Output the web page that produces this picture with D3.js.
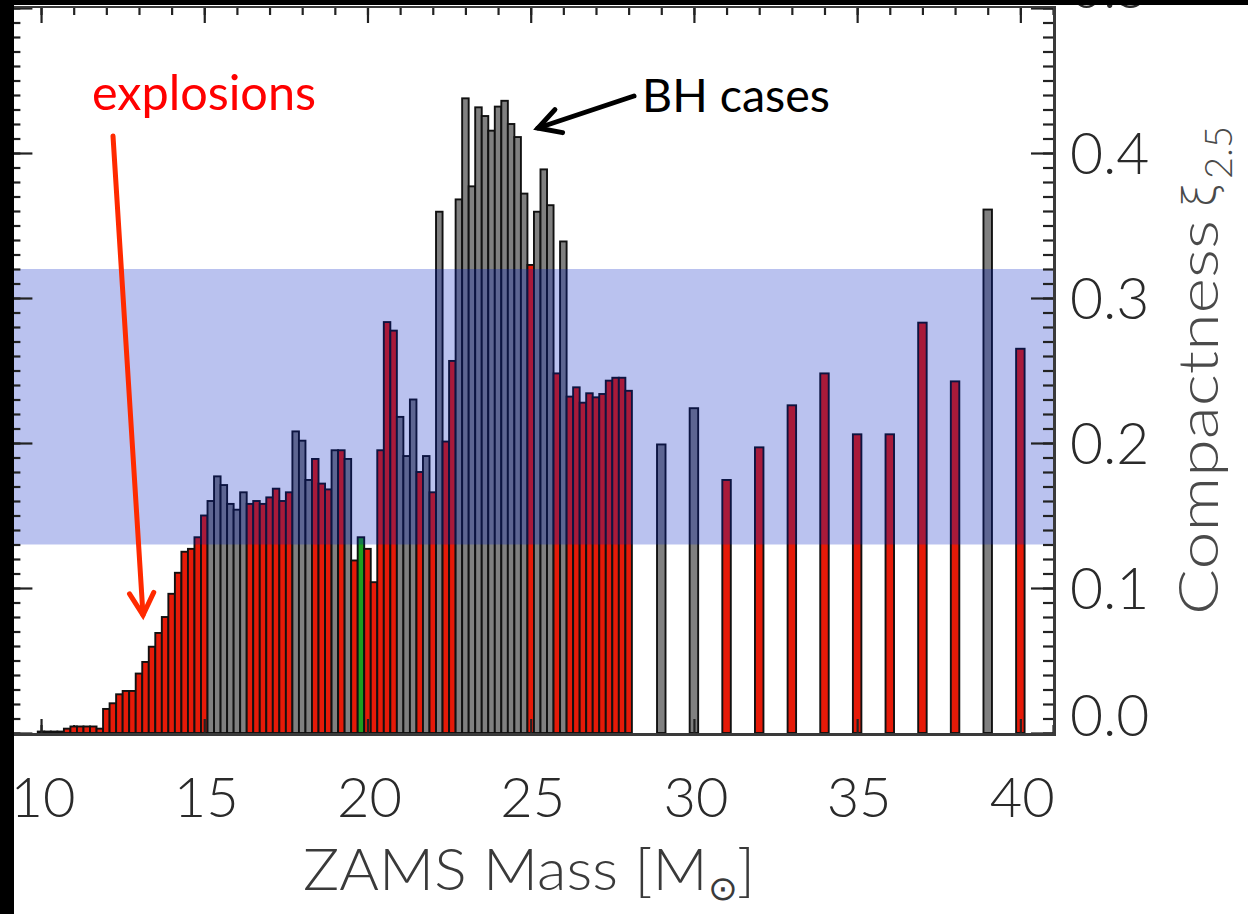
<!DOCTYPE html>
<html><head><meta charset="utf-8">
<script src="https://cdn.jsdelivr.net/npm/d3@7"></script>
<style>body{margin:0;background:#fff;} svg{display:block}</style>
</head><body><svg id="c" width="1248" height="914"></svg>
<script>
// ---- data ----
const denseMasses = [10.0,10.2,10.4,10.6,10.8,11.0,11.2,11.4,11.6,11.8,12.0,12.2,12.4,12.6,12.8,13.0,13.2,13.4,13.6,13.8,
  14.0,14.2,14.4,14.6,14.8,15.0,15.2,15.4,15.6,15.8,16.0,16.2,16.4,16.6,16.8,17.0,17.2,17.4,17.6,17.8,
  18.0,18.2,18.4,18.6,18.8,19.0,19.2,19.4,19.6,19.8,20.0,20.2,20.4,20.6,20.8,21.0,21.2,21.4,21.6,21.8,
  22.0,22.2,22.4,22.6,22.8,23.0,23.2,23.4,23.6,23.8,24.0,24.2,24.4,24.6,24.8,25.0,25.2,25.4,25.6,25.8,
  26.0,26.2,26.4,26.6,26.8,27.0,27.2,27.4,27.6,27.8,28.0];
const denseXi = [0.001,0.001,0.001,0.001,0.003,0.0045,0.0045,0.0045,0.0045,0.003,
  0.0166,0.0205,0.0267,0.029,0.029,0.041,0.049,0.0595,0.069,0.080,
  0.096,0.1105,0.125,0.127,0.135,0.150,0.160,0.177,0.171,0.158,
  0.154,0.166,0.158,0.160,0.158,0.1625,0.1685,0.160,0.166,0.208,
  0.2016,0.1745,0.189,0.172,0.168,0.195,0.195,0.189,0.119,0.135,
  0.127,0.104,0.195,0.2834,0.2775,0.218,0.191,0.230,0.180,0.191,
  0.166,0.3595,0.201,0.2566,0.368,0.4377,0.377,0.4315,0.4255,0.4154,
  0.432,0.436,0.420,0.411,0.372,0.3228,0.3595,0.3887,0.364,0.248,
  0.339,0.232,0.2384,0.2278,0.2343,0.2315,0.2338,0.243,0.245,0.245,
  0.236];
// E = explosion, B = black hole, G = other (green)
const denseOutcome = ["E","E","E","E","E","E","E","E","E","E","E","E","E","E","E","E","E","E","E","E",
  "E","E","E","E","E","E","B","B","B","B","B","B","E","E","E","E","E","E","E","B",
  "B","B","E","E","E","B","E","B","E","G","E","E","E","E","E","B","B","B","E","B",
  "E","B","E","E","B","B","B","B","B","B","B","B","B","B","B","E","B","B","B","E",
  "B","E","E","E","E","E","E","E","E","E","E"];
const sparseMasses = [29,30,31,32,33,34,35,36,37,38,39,40];
const sparseXi = [0.199,0.224,0.1745,0.197,0.226,0.248,0.206,0.206,0.283,0.2425,0.361,0.265];
const sparseOutcome = ["B","B","E","E","E","E","E","E","E","E","B","E"];
const xTickValues = [10,15,20,25,30,35,40];
const xTickLabels = ["10","15","20","25","30","35","40"];
const yTickValues = [0.0,0.1,0.2,0.3,0.4,0.5];
const yTickLabels = ["0.0","0.1","0.2","0.3","0.4","0.5"];
const bandRange = [0.13, 0.32];

// ---- layout ----
const svg = d3.select("#c");
const x = d3.scaleLinear().domain([9, 41]).range([8.4, 1053]);
const y = d3.scaleLinear().domain([0, 0.5]).range([733, 8]);
const color = d3.scaleOrdinal().domain(["E","B","G"]).range(["#e61a08","#808080","#1f9f1f"]);

const bars = denseMasses.map((m,i)=>({m, v:denseXi[i], o:denseOutcome[i], w:0.2}))
  .concat(sparseMasses.map((m,i)=>({m, v:sparseXi[i], o:sparseOutcome[i], w:0.26})));

// bottom minor ticks (under bars)
svg.append("g").attr("transform",`translate(0,${y(0)})`)
  .call(d3.axisBottom(x).tickValues(d3.range(9,42,1)).tickSize(-8).tickFormat(""))
  .call(g=>g.select(".domain").remove())
  .selectAll("line").attr("stroke","#222").attr("stroke-width",2.2);

svg.append("g").selectAll("rect").data(bars).join("rect")
  .attr("x", d=>x(d.m - d.w/2))
  .attr("width", d=>x(d.m + d.w/2) - x(d.m - d.w/2))
  .attr("y", d=>y(d.v))
  .attr("height", d=>y(0)-y(d.v))
  .attr("fill", d=>color(d.o))
  .attr("stroke","#111").attr("stroke-width",1.9);

// band
svg.append("rect")
  .attr("x", x(9)).attr("width", x(41)-x(9))
  .attr("y", y(bandRange[1])).attr("height", y(bandRange[0])-y(bandRange[1]))
  .attr("fill","rgb(0,30,196)").attr("fill-opacity",0.27);

// axes ticks
function styleTicks(g){ g.select(".domain").remove(); g.selectAll("line").attr("stroke","#222").attr("stroke-width",2.2); }
svg.append("g").attr("transform",`translate(0,${y(0)})`)
  .call(d3.axisBottom(x).tickValues(xTickValues).tickSize(-14).tickFormat("")).call(styleTicks);
svg.append("g").attr("transform",`translate(0,${y(0.5)-1})`)
  .call(d3.axisTop(x).tickValues(d3.range(9,42,1)).tickSize(-8).tickFormat("")).call(styleTicks);
svg.append("g").attr("transform",`translate(0,${y(0.5)-1})`)
  .call(d3.axisTop(x).tickValues(xTickValues).tickSize(-16).tickFormat("")).call(styleTicks);
svg.append("g").attr("transform",`translate(${x(9)},0)`)
  .call(d3.axisLeft(y).tickValues(d3.range(0,0.5001,0.01)).tickSize(-12).tickFormat("")).call(styleTicks);
svg.append("g").attr("transform",`translate(${x(9)},0)`)
  .call(d3.axisLeft(y).tickValues(yTickValues).tickSize(-24).tickFormat("")).call(styleTicks);
svg.append("g").attr("transform",`translate(${x(41)},0)`)
  .call(d3.axisRight(y).tickValues(d3.range(0,0.5001,0.01)).tickSize(-10).tickFormat("")).call(styleTicks);
svg.append("g").attr("transform",`translate(${x(41)},0)`)
  .call(d3.axisRight(y).tickValues(yTickValues).tickSize(-22).tickFormat("")).call(styleTicks);

// frame lines
svg.append("line").attr("x1",x(9)).attr("x2",x(41)+1.5).attr("y1",y(0)+1.5).attr("y2",y(0)+1.5)
  .attr("stroke","#3a3a3a").attr("stroke-width",3);
svg.append("line").attr("x1",x(41)+1.5).attr("x2",x(41)+1.5).attr("y1",y(0.5)-2).attr("y2",y(0)+3)
  .attr("stroke","#3a3a3a").attr("stroke-width",3);
svg.append("line").attr("x1",x(9)).attr("x2",x(41)+1.5).attr("y1",y(0.5)-1).attr("y2",y(0.5)-1)
  .attr("stroke","#3a3a3a").attr("stroke-width",2);

const FONT = "Lato, 'Open Sans', 'DejaVu Sans', sans-serif";
svg.append("g").selectAll("text").data(xTickValues).join("text")
  .attr("x", d=>x(d)+2).attr("y", 817)
  .attr("text-anchor","middle").attr("font-family",FONT).attr("font-weight",300)
  .attr("font-size",56).attr("fill","#2a2a2a")
  .text((d,i)=>xTickLabels[i]);
svg.append("g").selectAll("text").data(yTickValues).join("text")
  .attr("x", 1070)
  .attr("y", (d,i)=> y(d) + 21 + (i===0 ? -18 : 0) + (i===yTickValues.length-1 ? -21 : 0))
  .attr("font-family",FONT).attr("font-weight",300)
  .attr("font-size",57).attr("fill","#2a2a2a")
  .text((d,i)=>yTickLabels[i]);

// x title
const xt = svg.append("text").attr("x",303).attr("y",890)
  .attr("font-family",FONT).attr("font-weight",300).attr("font-size",58).attr("fill","#3a3a3a")
  .attr("textLength",452).attr("lengthAdjust","spacingAndGlyphs");
xt.append("tspan").text("ZAMS Mass [M");
xt.append("tspan").attr("font-size",34).attr("dy",10).attr("font-family","'DejaVu Sans', sans-serif").text("⊙");
xt.append("tspan").attr("dy",-10).text("]");

// y title (right, rotated)
const yt = svg.append("g").attr("transform","translate(1218,615) rotate(-90)");
yt.append("text").attr("x",0).attr("y",0)
  .attr("font-family",FONT).attr("font-weight",300).attr("font-size",56).attr("fill","#4a4a4a")
  .attr("textLength",395).attr("lengthAdjust","spacingAndGlyphs").text("Compactness");
yt.append("text").attr("x",408).attr("y",-3)
  .attr("font-family","'DejaVu Sans', sans-serif").attr("font-weight",300).attr("font-size",44).attr("fill","#4a4a4a").text("ξ");
yt.append("text").attr("x",436).attr("y",14)
  .attr("font-family",FONT).attr("font-weight",300).attr("font-size",38).attr("fill","#4a4a4a").text("2.5");

// annotations
function arrow(x1,y1,x2,y2,col){
  const ang = Math.atan2(y2-y1, x2-x1), L = 25, a = Math.PI/6.2;
  svg.append("line").attr("x1",x1).attr("y1",y1).attr("x2",x2).attr("y2",y2)
    .attr("stroke",col).attr("stroke-width",5).attr("stroke-linecap","round");
  const p = `M${x2-L*Math.cos(ang-a)},${y2-L*Math.sin(ang-a)} L${x2},${y2} L${x2-L*Math.cos(ang+a)},${y2-L*Math.sin(ang+a)}`;
  svg.append("path").attr("d",p).attr("fill","none").attr("stroke",col).attr("stroke-width",5)
    .attr("stroke-linecap","round").attr("stroke-linejoin","miter");
}
svg.append("text").attr("x",92).attr("y",110).attr("font-family",FONT).attr("font-size",48)
  .attr("fill","#ff0000").attr("textLength",224).attr("lengthAdjust","spacingAndGlyphs").text("explosions");
arrow(113,136,143,615,"#ff2a00");
svg.append("text").attr("x",642).attr("y",112).attr("font-family",FONT).attr("font-size",47)
  .attr("fill","#000").attr("textLength",188).attr("lengthAdjust","spacingAndGlyphs").text("BH cases");
arrow(634,96,538,128,"#000");

// slide background edges
svg.append("rect").attr("x",0).attr("y",0).attr("width",14).attr("height",914).attr("fill","#000");
svg.append("rect").attr("x",0).attr("y",0).attr("width",1248).attr("height",5).attr("fill","#000");
</script></body></html>
